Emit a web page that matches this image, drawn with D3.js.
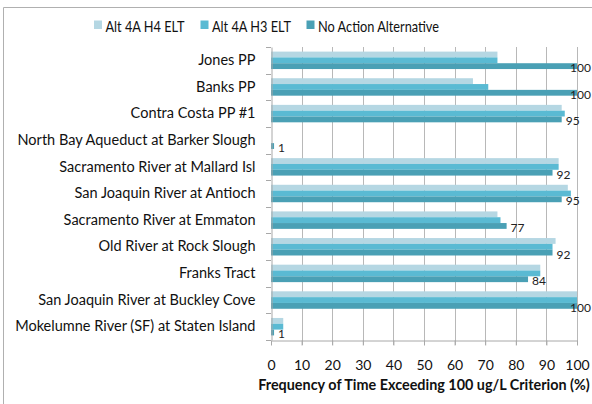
<!DOCTYPE html>
<html><head><meta charset="utf-8">
<script src="https://cdn.jsdelivr.net/npm/d3@7"></script>
<style>
html,body{margin:0;padding:0;background:#fff;}
svg{display:block;font-family:Lato,"Open Sans",sans-serif;}
</style></head>
<body>
<svg id="c" width="592" height="404"></svg>
<script>
const categories = ["Jones PP","Banks PP","Contra Costa PP #1","North Bay Aqueduct at Barker Slough","Sacramento River at Mallard Isl","San Joaquin River at Antioch","Sacramento River at Emmaton","Old River at Rock Slough","Franks Tract","San Joaquin River at Buckley Cove","Mokelumne River (SF) at Staten Island"];
const seriesNames = ["Alt 4A H4 ELT","Alt 4A H3 ELT","No Action Alternative"];
const altH4 = [74, 66, 95, 0, 94, 97, 74, 93, 88, 100, 4];
const altH3 = [74, 71, 96, 0, 94, 98, 75, 92, 88, 100, 4];
const noAction = [100, 100, 95, 1, 92, 95, 77, 92, 84, 100, 1];
const xTicks = [0,10,20,30,40,50,60,70,80,90,100];
const xTitle = "Frequency of Time Exceeding 100 ug/L Criterion (%)";
const colors = ["#b5d7e3","#5abad3","#4aa0b5"];
const seriesValues = [altH4, altH3, noAction];

const svg = d3.select("#c");
const L = 271, R = 577, T = 47, B = 340;

// outer border
svg.append("path").attr("d","M3.5,404 V7.5 H592").attr("fill","none").attr("stroke","#b0b0b0").attr("stroke-width",1);

const x = d3.scaleLinear().domain([0,100]).range([L,R]);
const y = d3.scaleBand().domain(categories).range([T,B]).padding(0);
const ys = d3.scaleBand().domain(seriesNames).range([0,y.bandwidth()]).paddingInner(0).paddingOuter(0.79);

function squeeze(sel, k){
  sel.each(function(){
    const w = this.getComputedTextLength();
    d3.select(this).attr("textLength", w*k).attr("lengthAdjust","spacingAndGlyphs");
  });
}

// gridlines
svg.append("g").selectAll("line").data(xTicks.slice(1)).join("line")
  .attr("x1",d=>Math.round(x(d))+0.5).attr("x2",d=>Math.round(x(d))+0.5)
  .attr("y1",T).attr("y2",B+5).attr("stroke","#b8b8b8").attr("stroke-width",1);

// bars
const g = svg.append("g");
seriesNames.forEach((s,si)=>{
  g.selectAll(null).data(categories).join("rect")
    .attr("x",x(0)).attr("y",c=>y(c)+ys(s))
    .attr("width",(c,i)=>x(seriesValues[si][i])-x(0))
    .attr("height",ys.bandwidth())
    .attr("fill",colors[si]);
});

// data labels (No Action)
const dl = svg.append("g").selectAll("text").data(categories).join("text")
  .attr("x",(c,i)=>x(noAction[i])+4)
  .attr("y",(c,i)=>y(c)+ys(seriesNames[2])+ys.bandwidth()/2+1.5)
  .attr("dominant-baseline","central")
  .attr("font-size",12).attr("fill","#222")
  .text((c,i)=>noAction[i]);
// keep labels inside the picture
dl.each(function(){
  const t = d3.select(this);
  const w = this.getComputedTextLength();
  const x0 = +t.attr("x");
  if (x0 + w > 591) t.attr("x", 591 - w);
});

// y axis
const yAxis = d3.axisLeft(y).tickSize(0).tickPadding(16).tickFormat(d=>d);
const ya = svg.append("g").attr("transform",`translate(${L+0.5},0)`).call(yAxis);
ya.select(".domain").attr("stroke","#a8a8a8");
ya.selectAll("text").attr("font-size",14.5).attr("fill","#111").attr("font-family","Lato");
// boundary ticks
svg.append("g").selectAll("line").data(d3.range(categories.length+1)).join("line")
  .attr("x1",L-5).attr("x2",L)
  .attr("y1",i=>Math.round(T+i*y.step())+0.5).attr("y2",i=>Math.round(T+i*y.step())+0.5)
  .attr("stroke","#a8a8a8");

// x axis
const xAxis = d3.axisBottom(x).tickValues(xTicks).tickSize(5).tickPadding(15).tickSizeOuter(0);
const xa = svg.append("g").attr("transform",`translate(0,${B+0.5})`).call(xAxis);
xa.select(".domain").attr("stroke","#a8a8a8");
xa.selectAll(".tick line").attr("stroke","#a8a8a8");
xa.selectAll("text").attr("font-size",14).attr("fill","#111").attr("font-family","Lato");

// x title (font sized to fit the reference width)
const tt = svg.append("text").attr("x",(L+R)/2).attr("y",390).attr("text-anchor","middle")
  .attr("font-size",15).attr("font-weight","bold").attr("fill","#111").text(xTitle);
const tw = tt.node().getComputedTextLength();
tt.attr("font-size", 15*332/tw);

// legend
const lx = [94,200.5,306.5];
const lg = svg.append("g");
seriesNames.forEach((s,i)=>{
  lg.append("rect").attr("x",lx[i]).attr("y",20.5).attr("width",8).attr("height",8.5).attr("fill",colors[i]);
  lg.append("text").attr("x",lx[i]+11.5).attr("y",25.5).attr("dominant-baseline","central")
    .attr("font-size",15).attr("fill","#111").text(s);
});

// compress category labels so the longest one matches reference width
const longest = ya.selectAll("text").filter(d=>d==="North Bay Aqueduct at Barker Slough");
const k = 238/longest.node().getComputedTextLength();
squeeze(ya.selectAll("text"), k);
const lgLast = lg.selectAll("text").nodes()[2];
const k2 = 121/lgLast.getComputedTextLength();
squeeze(lg.selectAll("text"), k2);
</script>
</body></html>
